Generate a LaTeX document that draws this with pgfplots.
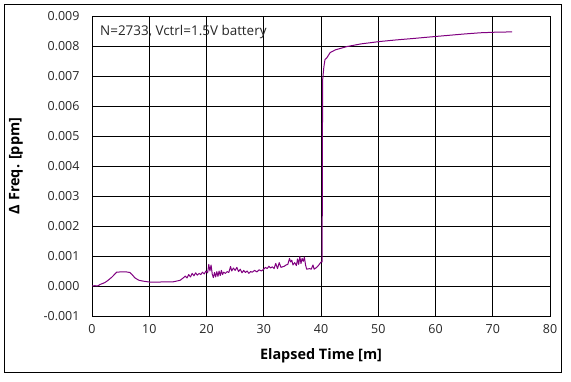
\documentclass[border=0pt]{standalone}
\usepackage{pgfplots}
\pgfplotsset{compat=1.18}
\usepackage{fontspec}
\setmainfont{Open Sans}
\definecolor{lineP}{RGB}{128,0,128}
\begin{document}
\begin{tikzpicture}
\useasboundingbox (0,0) rectangle (571bp,382bp);
\draw[line width=1pt] (4.5bp,9.5bp) rectangle (561.5bp,377bp);
\begin{axis}[
  at={(92bp,66bp)}, anchor=south west,
  scale only axis, width=458bp, height=300bp,
  xmin=0, xmax=80, ymin=-0.001, ymax=0.009,
  xtick={0,10,...,80},
  ytick={-0.001,0,0.001,0.002,0.003,0.004,0.005,0.006,0.007,0.008,0.009},
  scaled y ticks=false,
  /pgf/number format/assume math mode=true,
  yticklabel style={/pgf/number format/fixed, /pgf/number format/fixed zerofill, /pgf/number format/precision=3, xshift=-9bp},
  xticklabel style={yshift=-5bp},
  tick label style={font=\fontsize{12.5}{14}\selectfont, text=black!85},
  grid=major, major grid style={black, line width=0.9pt},
  axis line style={black, line width=0.9pt},
  tick style={draw=none},
  xlabel={Elapsed Time [m]},
  ylabel={Δ Freq. [ppm]},
  label style={font=\fontsize{14.5}{16}\selectfont\bfseries},
  xlabel style={yshift=-8bp},
  ylabel style={yshift=14bp},
]
\addplot[lineP, line width=1pt, line join=round] coordinates {
(0,0) (0.5,0.00001) (1.0,0.00000) (1.4,0.00005) (1.8,0.00008) (2.2,0.00011) (2.6,0.00016)
(3.0,0.00022) (3.5,0.00030) (4.0,0.00040) (4.3,0.00046) (5.0,0.00047) (6.0,0.00047) (6.6,0.00045)
(7.0,0.00038) (7.5,0.00027) (8.2,0.00019) (9.0,0.00016) (10.1,0.00013) (11.5,0.00013) (13.0,0.00014)
(14.2,0.00014) (15.4,0.00019) (16.0,0.00028)
(16.3,0.00033) (16.6,0.00027) (16.9,0.00038) (17.2,0.00030) (17.5,0.00042) (17.8,0.00034)
(18.1,0.00044) (18.4,0.00036) (18.7,0.00042) (19.0,0.00038) (19.3,0.00046) (19.6,0.00040)
(19.9,0.00050) (20.2,0.00044) (20.4,0.00072) (20.6,0.00050) (20.8,0.00070) (21.0,0.00040)
(21.2,0.00028) (21.4,0.00045) (21.6,0.00030) (21.8,0.00048) (22.0,0.00032) (22.2,0.00050)
(22.4,0.00035) (22.6,0.00052) (22.8,0.00038) (23.0,0.00046) (23.3,0.00042) (23.6,0.00048)
(23.9,0.00045) (24.2,0.00065) (24.4,0.00050) (24.7,0.00060) (25.0,0.00052) (25.3,0.00062)
(25.6,0.00048) (25.9,0.00056) (26.2,0.00044) (26.5,0.00052) (26.8,0.00045) (27.1,0.00050)
(27.4,0.00042) (27.7,0.00048) (28.0,0.00046) (28.4,0.00052) (28.8,0.00047) (29.2,0.00054)
(29.6,0.00050) (30.0,0.00056) (30.3,0.00062) (30.6,0.00058) (30.9,0.00066) (31.2,0.00060)
(31.5,0.00064) (31.8,0.00058) (32.1,0.00075) (32.4,0.00058) (32.7,0.00078) (33.0,0.00062)
(33.3,0.00064) (33.6,0.00066) (33.9,0.00070) (34.2,0.00072) (34.5,0.00092) (34.7,0.00080)
(34.9,0.00086) (35.1,0.00070) (35.4,0.00078) (35.7,0.00068) (35.9,0.00090) (36.1,0.00072)
(36.3,0.00098) (36.5,0.00075) (36.7,0.00092) (36.9,0.00082) (37.1,0.00096) (37.3,0.00070)
(37.5,0.00056) (38.0,0.00058) (38.3,0.00056) (38.6,0.00070) (38.8,0.00056) (39.1,0.00060)
(39.4,0.00065) (39.7,0.00072) (40.0,0.00080) (40.2,0.00080) (40.25,0.0050) (40.3,0.00690)
(40.35,0.0070) (40.5,0.0073) (40.7,0.00755) (41.0,0.0076) (41.6,0.00778) (42.5,0.00787)
(44.5,0.00798) (47.0,0.00807) (50.3,0.00815) (53.0,0.00820) (56.1,0.00825) (59.0,0.00830)
(62.0,0.00835) (65.0,0.00840) (67.8,0.00844) (70.5,0.00846) (73.4,0.00847)
};
\node[anchor=west, inner sep=0pt, font=\fontsize{13.5}{15}\selectfont, text=black!85] at (axis cs:1.4,0.00848) {N=2733, Vctrl=1.5V battery};
\end{axis}
\end{tikzpicture}
\end{document}
